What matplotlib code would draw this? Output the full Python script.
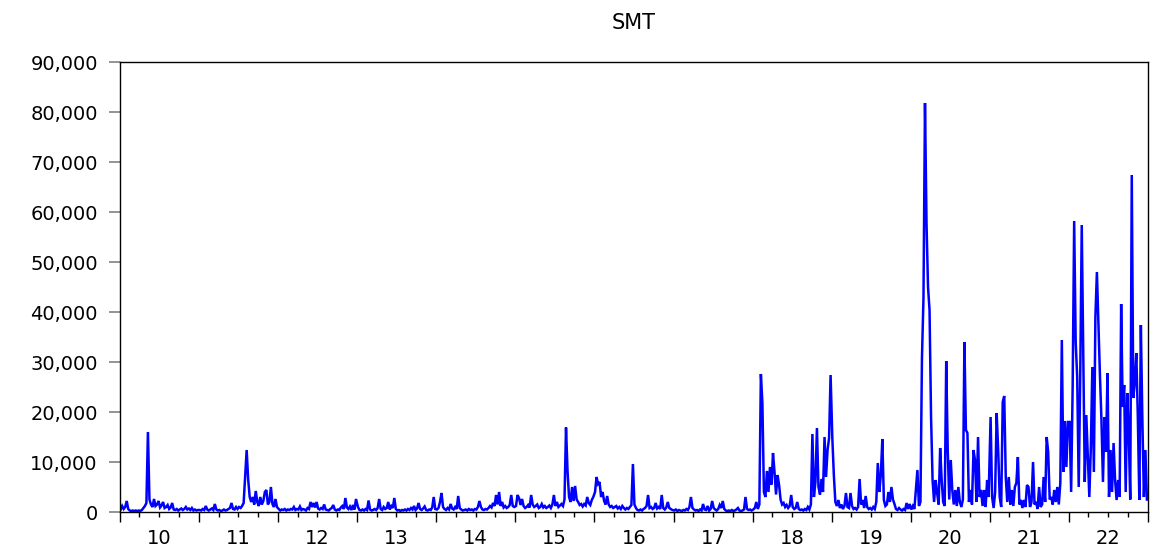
import matplotlib
matplotlib.use("Agg")
import matplotlib.pyplot as plt
import matplotlib.dates as mdates
import matplotlib.ticker as mticker
import pandas as pd

title = "SMT"
years = list(range(2010, 2023))
year_labels = ["10", "11", "12", "13", "14", "15", "16", "17", "18", "19", "20", "21", "22"]
y_ticks = [0, 10000, 20000, 30000, 40000, 50000, 60000, 70000, 80000, 90000]

# weekly values, thousands
smt_2010 = [0.5, 1.2, 0.6, 1.0, 2.2, 0.6, 0.3, 0.2, 0.3, 0.2, 0.3, 0.2, 0.3, 0.2, 0.4, 0.8, 1.2, 1.8, 16.0, 2.5,
            1.5, 1.0, 2.6, 1.2, 1.5, 2.2, 0.9, 1.3, 2.0, 0.8, 1.0, 1.4, 0.6, 0.9, 1.8, 0.5, 0.4, 0.6, 0.3, 0.5,
            0.7, 0.4, 0.6, 1.0, 0.5, 0.7, 0.4, 0.8, 0.3, 0.5, 0.3, 0.4]
smt_2011 = [0.4, 0.3, 0.6, 0.4, 1.2, 0.5, 0.3, 0.5, 0.7, 0.4, 1.6, 0.5, 0.3, 0.4, 0.2, 0.3, 0.5, 0.3, 0.4, 0.6,
            0.8, 1.8, 0.6, 0.5, 1.0, 0.6, 1.0, 0.8, 1.2, 1.8, 7.0, 12.4, 6.5, 3.0, 2.0, 3.0, 1.5, 4.2, 2.0, 1.2,
            3.0, 1.5, 2.2, 4.0, 4.4, 1.5, 2.0, 5.0, 1.6, 1.0, 2.6, 1.0]
smt_2012 = [0.6, 0.3, 0.5, 0.4, 0.6, 0.3, 0.5, 0.4, 0.6, 0.5, 1.0, 0.4, 0.6, 0.5, 1.1, 0.4, 0.6, 0.5, 0.3, 0.8,
            0.6, 2.0, 1.0, 1.8, 0.9, 2.0, 0.7, 0.5, 0.8, 0.6, 1.5, 0.5, 0.4, 0.3, 0.6, 0.8, 1.4, 0.5, 0.3, 0.5,
            0.4, 0.9, 1.2, 0.6, 2.8, 0.9, 0.6, 1.1, 0.4, 1.4, 0.5, 2.6]
smt_2013 = [1.0, 0.4, 0.3, 0.5, 0.3, 0.6, 0.4, 2.3, 0.5, 0.3, 0.4, 0.6, 0.4, 0.8, 2.6, 0.6, 0.4, 1.0, 0.6, 0.8,
            2.0, 0.5, 1.2, 0.8, 2.8, 0.6, 0.3, 0.4, 0.2, 0.4, 0.3, 0.5, 0.3, 0.6, 0.4, 0.8, 0.5, 1.2, 0.4, 0.7,
            1.8, 0.6, 0.4, 0.7, 1.1, 0.4, 0.3, 0.5, 0.4, 0.9, 3.0, 0.6]
smt_2014 = [0.5, 0.8, 2.0, 3.8, 1.0, 0.6, 0.4, 0.8, 0.5, 1.6, 0.7, 0.5, 1.0, 0.6, 3.2, 0.8, 0.5, 0.3, 0.4, 0.5,
            0.3, 0.6, 0.4, 0.5, 0.3, 0.6, 0.5, 1.0, 2.2, 1.0, 0.5, 0.4, 0.6, 0.5, 0.8, 1.2, 0.9, 1.8, 1.2, 3.4,
            1.5, 4.0, 1.2, 2.0, 0.9, 1.2, 0.8, 1.0, 1.4, 3.4, 1.2, 1.0]
smt_2015 = [1.2, 3.4, 2.8, 1.4, 2.6, 1.2, 0.8, 1.0, 1.4, 0.9, 3.4, 1.5, 1.0, 1.2, 1.5, 0.8, 1.0, 1.6, 0.9, 1.2,
            0.8, 1.0, 1.3, 0.8, 1.5, 3.4, 1.2, 2.0, 1.0, 1.3, 1.6, 1.2, 2.5, 16.9, 8.2, 3.0, 2.0, 5.0, 2.2, 5.2,
            2.5, 2.0, 1.4, 1.6, 1.1, 1.6, 1.3, 3.0, 1.8, 1.4, 2.4, 3.0]
smt_2016 = [4.0, 7.0, 5.6, 6.0, 3.0, 4.0, 2.2, 1.5, 3.2, 1.5, 1.0, 1.2, 0.8, 1.0, 1.2, 0.7, 1.0, 0.6, 1.2, 0.8,
            0.5, 0.8, 0.6, 1.0, 1.4, 9.6, 1.5, 0.8, 0.4, 0.3, 0.5, 0.3, 0.6, 0.8, 1.2, 3.4, 0.8, 1.0, 0.6, 0.8,
            1.8, 0.7, 1.0, 0.6, 3.4, 0.8, 0.5, 0.9, 2.0, 0.8, 0.6, 0.4]
smt_2017 = [0.3, 0.5, 0.2, 0.4, 0.3, 0.2, 0.4, 0.3, 0.6, 0.4, 1.0, 3.0, 0.8, 0.5, 0.3, 0.4, 0.2, 0.5, 0.3, 1.6,
            0.5, 0.4, 1.2, 0.3, 0.6, 2.2, 0.8, 0.5, 0.3, 0.6, 1.4, 0.8, 2.2, 0.6, 0.3, 0.2, 0.3, 0.2, 0.4, 0.2,
            0.3, 0.5, 0.8, 0.3, 0.2, 0.3, 0.5, 3.0, 0.6, 0.4, 0.5, 0.3]
smt_2018 = [0.5, 0.8, 2.0, 0.6, 1.5, 27.6, 21.8, 4.0, 3.0, 8.2, 4.0, 9.0, 5.5, 11.8, 8.0, 3.5, 7.4, 5.4, 2.5, 1.5,
            1.8, 1.0, 1.4, 0.8, 1.2, 3.4, 1.0, 0.6, 0.8, 2.0, 0.6, 0.4, 0.5, 0.3, 0.6, 0.4, 1.0, 0.5, 1.5, 15.6,
            3.0, 6.0, 16.8, 5.0, 3.5, 6.6, 4.0, 15.0, 7.0, 12.4, 14.8, 27.4]
smt_2019 = [14.8, 7.4, 2.0, 1.2, 2.4, 0.8, 1.5, 0.6, 1.2, 3.8, 1.0, 0.8, 3.8, 1.2, 0.6, 0.8, 0.5, 1.0, 6.6, 1.5,
            2.4, 0.8, 3.2, 1.0, 0.6, 0.8, 0.5, 1.0, 0.6, 2.0, 9.8, 4.0, 7.4, 14.6, 2.4, 1.2, 1.5, 4.0, 2.0, 5.0,
            2.5, 1.6, 0.6, 0.4, 0.8, 0.5, 0.3, 0.6, 0.4, 1.8, 0.6, 1.6]
smt_2020 = [0.5, 1.2, 0.6, 4.4, 8.4, 1.2, 2.0, 30.8, 42.8, 81.8, 57.8, 45.0, 40.4, 19.0, 6.4, 2.0, 6.4, 3.8, 1.5, 12.8,
            6.4, 2.0, 1.2, 30.2, 12.4, 2.5, 10.4, 4.4, 1.5, 4.4, 1.2, 5.0, 2.0, 1.0, 2.5, 34.0, 16.4, 15.8, 2.0, 4.4,
            1.5, 12.4, 10.4, 2.0, 15.0, 3.0, 4.4, 1.2, 4.4, 1.0, 6.4, 3.0]
smt_2021 = [19.0, 3.0, 0.8, 4.0, 19.8, 12.4, 3.0, 1.0, 22.0, 23.2, 7.0, 2.0, 7.0, 1.5, 4.4, 1.2, 5.0, 5.8, 11.0, 1.5,
            2.4, 0.8, 2.4, 1.0, 5.4, 5.0, 1.0, 2.0, 10.0, 1.5, 2.0, 0.6, 5.0, 1.0, 1.5, 7.0, 2.0, 15.0, 12.0, 2.5,
            3.0, 1.5, 4.4, 2.0, 5.0, 1.5, 5.8, 34.4, 8.0, 18.2, 9.0, 18.0]
smt_2022 = [18.0, 4.0, 25.0, 58.2, 34.0, 27.0, 5.0, 27.0, 57.4, 32.0, 6.0, 19.4, 11.0, 3.0, 12.8, 29.0, 8.0, 39.0, 48.0, 37.8,
            27.4, 18.4, 6.0, 19.0, 12.0, 27.8, 3.0, 12.4, 4.0, 13.8, 6.4, 2.4, 6.4, 3.0, 41.6, 21.0, 25.4, 4.0, 23.8, 15.8,
            2.5, 67.4, 22.8, 25.8, 31.8, 19.0, 2.4, 37.4, 18.4, 3.0, 12.4, 2.5]

weekly = [smt_2010, smt_2011, smt_2012, smt_2013, smt_2014, smt_2015, smt_2016,
          smt_2017, smt_2018, smt_2019, smt_2020, smt_2021, smt_2022]

dates = []
values = []
for yr, vals in zip(years, weekly):
    d = pd.date_range(f"{yr}-01-04", periods=len(vals), freq="7D")
    dates.extend(list(d))
    values.extend([v * 1000 for v in vals])

plt.rcParams["font.family"] = ["DejaVu Sans"]

fig = plt.figure(figsize=(11.5, 5.52), dpi=100)
ax = fig.add_axes([120 / 1150, 40 / 552, 1028 / 1150, 450 / 552])
ax.plot(dates, values, color="#0000FF", lw=1.8, solid_joinstyle="miter")

ax.set_xlim(pd.Timestamp("2010-01-01"), pd.Timestamp("2023-01-01"))
ax.set_ylim(0, 90000)
ax.set_yticks(y_ticks)
ax.yaxis.set_major_formatter(mticker.StrMethodFormatter("{x:,.0f}"))
ax.tick_params(axis="y", direction="out", length=8, width=1.2, color="#808080",
               pad=8, labelsize=14, labelcolor="black")

ax.xaxis.set_major_locator(mdates.YearLocator())
ax.xaxis.set_minor_locator(mdates.MonthLocator(bymonth=[4, 7, 10]))
ax.xaxis.set_major_formatter(mticker.NullFormatter())
ax.xaxis.set_minor_formatter(mticker.NullFormatter())
ax.tick_params(axis="x", which="major", direction="out", length=7.5, width=1, color="black")
ax.tick_params(axis="x", which="minor", direction="out", length=3.6, width=1, color="black")

for yr, lab in zip(years, year_labels):
    ax.text(mdates.date2num(pd.Timestamp(f"{yr}-07-02")), -0.038, lab,
            transform=ax.get_xaxis_transform(), ha="center", va="top", fontsize=14)

for sp in ax.spines.values():
    sp.set_color("black")
    sp.set_linewidth(1)

fig.text(634 / 1150, (552 - 29) / 552, title, ha="center", va="baseline", fontsize=15)

fig.savefig("out.png", dpi=100)
